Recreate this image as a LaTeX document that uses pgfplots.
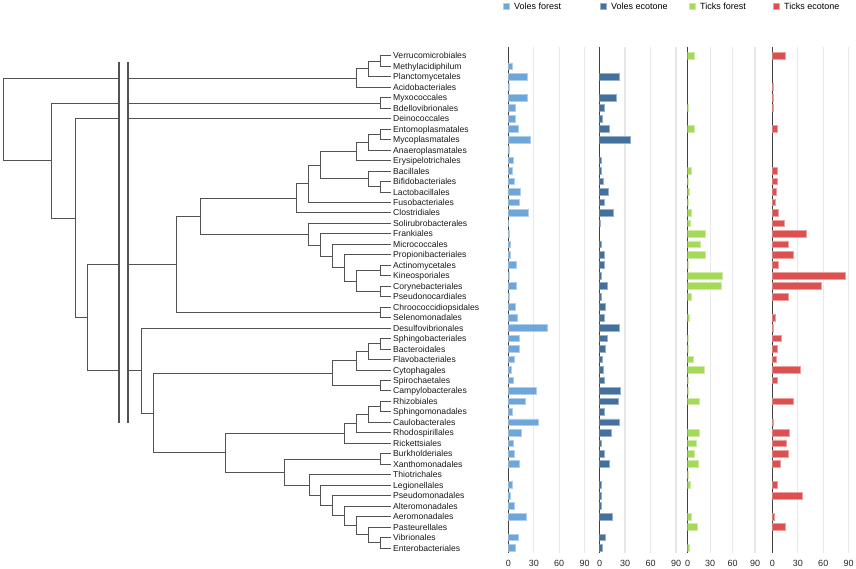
\documentclass[border=0pt]{standalone}
\usepackage{fontspec}
\setmainfont{Liberation Sans}
\usepackage{pgfplots}
\usepackage{pgfplotstable}
\pgfplotsset{compat=1.18}

\definecolor{vf}{RGB}{110,166,218}
\definecolor{ve}{RGB}{68,112,158}
\definecolor{tf}{RGB}{165,218,88}
\definecolor{te}{RGB}{221,80,80}

% relative abundance per order (rows top to bottom)
\pgfplotstableread{
row vf ve tf te
1 0 0 9 15
2 5 0 0 0
3 23 23 0 0
4 0.7 0 0 1.5
5 23 19.5 0 1.5
6 8 6 1.5 1.5
7 8 3 0 0
8 11.5 11 9 5.5
9 26 36 0 0
10 1.8 0 0 0
11 6 2 0 0
12 5 2 5 5.5
13 7.5 4 1.2 6.5
14 14.5 10 2 4.3
15 13.5 5 1 3.2
16 24 16.5 5.5 6.8
17 0.5 1 3 14
18 0.7 0 23 40
19 2.8 2 17 19
20 2.8 5 24 25
21 10 6 1.5 7.5
22 0.7 2 46 86
23 10 9 45 57.5
24 0.7 2 5.5 19
25 8 7 0 0
26 11 6 2.5 3.5
27 46 23.5 0 1.5
28 13 9 1.5 10.8
29 13 7 1.5 5.5
30 7 3 8 4.5
31 4 4 22 33
32 6 5 1.5 5.5
33 32.5 24.5 1 0
34 20.5 22.5 15 25
35 4.7 6 0 0
36 36 23 0 1.5
37 16 13.5 15 20
38 6 2 11.5 16.5
39 7 6 9.5 19
40 13.5 11 14 9.6
41 0 0 1 0
42 4.7 2 4 5.5
43 2 2 0 35
44 7 2 0 0
45 21.5 14.5 5.5 2.5
46 0 0 12.5 16
47 12 7 0 0
48 8 3 2 0
}\bardata

\pgfplotsset{
  rows/.style={scale only axis, height=506.3pt, anchor=north west,
    y dir=reverse, ymin=0.13, ymax=48.48},
  panel/.style={rows,
    xbar, bar width=6.7pt, bar shift=0pt, xmin=0,
    axis x line*=bottom, axis y line*=left,
    x axis line style={draw=none},
    y axis line style={black!75, line width=1.3pt},
    ytick=\empty, xtick={0,30,60,90},
    xmajorgrids, major grid style={black!9, line width=1.3pt},
    major tick length=0pt,
    tick label style={font=\fontsize{9}{10}\selectfont, text=black!85},
    xticklabel style={yshift=-3.5pt},
    /pgf/number format/assume math mode=true,
    x filter/.expression={x==0 ? nan : x}, unbounded coords=discard,
    legend style={at={(axis description cs:0,1)}, anchor=west, yshift=39.9pt,
      draw=none, fill=none, inner sep=0pt, column sep=2.6pt,
      font=\fontsize{9}{10}\selectfont},
    legend image code/.code={\fill[##1] (0pt,-2.9pt) rectangle (5.6pt,2.9pt);},
  },
  tree/.style={black!68, line width=0.85pt, mark=none},
}

\begin{document}
\begin{tikzpicture}
\useasboundingbox (0,0) rectangle (856pt,569pt);

% dendrogram
\begin{axis}[rows, width=393pt, at={(0pt,522.3pt)},
  xmin=0, xmax=393,
  axis x line=none, axis y line*=right, y axis line style={draw=none},
  major tick length=0pt,
  ytick={1,...,48},
  yticklabels={Verrucomicrobiales,Methylacidiphilum,Planctomycetales,Acidobacteriales,
    Myxococcales,Bdellovibrionales,Deinococcales,Entomoplasmatales,Mycoplasmatales,
    Anaeroplasmatales,Erysipelotrichales,Bacillales,Bifidobacteriales,Lactobacillales,
    Fusobacteriales,Clostridiales,Solirubrobacterales,Frankiales,Micrococcales,
    Propionibacteriales,Actinomycetales,Kineosporiales,Corynebacteriales,
    Pseudonocardiales,Chroococcidiopsidales,Selenomonadales,Desulfovibrionales,
    Sphingobacteriales,Bacteroidales,Flavobacteriales,Cytophagales,Spirochaetales,
    Campylobacterales,Rhizobiales,Sphingomonadales,Caulobacterales,Rhodospirillales,
    Rickettsiales,Burkholderiales,Xanthomonadales,Thiotrichales,Legionellales,
    Pseudomonadales,Alteromonadales,Aeromonadales,Pasteurellales,Vibrionales,
    Enterobacteriales},
  yticklabel style={anchor=base west, inner sep=0pt, yshift=-3.1pt,
    font=\fontsize{8.6}{9}\selectfont, text=black!90},
  clip=false]
\addplot[tree] coordinates {(391,1)(380,1)(380,2)(391,2)};
\addplot[tree] coordinates {(380,1.5)(368,1.5)(368,3)(391,3)};
\addplot[tree] coordinates {(368,2.25)(356,2.25)(356,4)(391,4)};
\addplot[tree] coordinates {(356,3.125)(128,3.125)};
\addplot[tree] coordinates {(391,5)(380,5)(380,6)(391,6)};
\addplot[tree] coordinates {(380,5.5)(128,5.5)};
\addplot[tree] coordinates {(391,7)(128,7)};
\addplot[tree] coordinates {(391,8)(380,8)(380,9)(391,9)};
\addplot[tree] coordinates {(380,8.5)(368,8.5)(368,10)(391,10)};
\addplot[tree] coordinates {(368,9.25)(356,9.25)(356,11)(391,11)};
\addplot[tree] coordinates {(391,13)(380,13)(380,14)(391,14)};
\addplot[tree] coordinates {(391,12)(368,12)(368,13.5)(380,13.5)};
\addplot[tree] coordinates {(356,10.125)(320.3,10.125)(320.3,12.75)(368,12.75)};
\addplot[tree] coordinates {(320.3,11.4375)(308.7,11.4375)(308.7,15)(391,15)};
\addplot[tree] coordinates {(308.7,13.219)(296.7,13.219)(296.7,16)(391,16)};
\addplot[tree] coordinates {(391,21)(380,21)(380,22)(391,22)};
\addplot[tree] coordinates {(391,23)(380,23)(380,24)(391,24)};
\addplot[tree] coordinates {(380,21.5)(356.7,21.5)(356.7,23.5)(380,23.5)};
\addplot[tree] coordinates {(391,20)(344.3,20)(344.3,22.5)(356.7,22.5)};
\addplot[tree] coordinates {(391,19)(332.7,19)(332.7,21.25)(344.3,21.25)};
\addplot[tree] coordinates {(391,18)(320.7,18)(320.7,20.125)(332.7,20.125)};
\addplot[tree] coordinates {(391,17)(308.3,17)(308.3,19.0625)(320.7,19.0625)};
\addplot[tree] coordinates {(296.7,14.609)(200.7,14.609)(200.7,18.031)(308.3,18.031)};
\addplot[tree] coordinates {(391,25)(380,25)(380,26)(391,26)};
\addplot[tree] coordinates {(200.7,16.32)(176.7,16.32)(176.7,25.5)(380,25.5)};
\addplot[tree] coordinates {(176.7,20.91)(128,20.91)};
\addplot[tree] coordinates {(391,28)(380,28)(380,29)(391,29)};
\addplot[tree] coordinates {(380,28.5)(368,28.5)(368,30)(391,30)};
\addplot[tree] coordinates {(368,29.25)(356,29.25)(356,31)(391,31)};
\addplot[tree] coordinates {(391,32)(380,32)(380,33)(391,33)};
\addplot[tree] coordinates {(356,30.125)(332.3,30.125)(332.3,32.5)(380,32.5)};
\addplot[tree] coordinates {(391,34)(380,34)(380,35)(391,35)};
\addplot[tree] coordinates {(380,34.5)(368,34.5)(368,36)(391,36)};
\addplot[tree] coordinates {(368,35.25)(356,35.25)(356,37)(391,37)};
\addplot[tree] coordinates {(356,36.125)(344,36.125)(344,38)(391,38)};
\addplot[tree] coordinates {(391,39)(380,39)(380,40)(391,40)};
\addplot[tree] coordinates {(391,47)(380,47)(380,48)(391,48)};
\addplot[tree] coordinates {(391,46)(368.3,46)(368.3,47.5)(380,47.5)};
\addplot[tree] coordinates {(391,45)(356.7,45)(356.7,46.75)(368.3,46.75)};
\addplot[tree] coordinates {(391,44)(344.3,44)(344.3,45.875)(356.7,45.875)};
\addplot[tree] coordinates {(391,43)(332.7,43)(332.7,44.9375)(344.3,44.9375)};
\addplot[tree] coordinates {(391,42)(320.7,42)(320.7,43.969)(332.7,43.969)};
\addplot[tree] coordinates {(391,41)(309,41)(309,42.984)(320.7,42.984)};
\addplot[tree] coordinates {(380,39.5)(284.7,39.5)(284.7,41.992)(309,41.992)};
\addplot[tree] coordinates {(344,37.0625)(225,37.0625)(225,40.746)(284.7,40.746)};
\addplot[tree] coordinates {(332.3,31.3125)(153,31.3125)(153,38.904)(225,38.904)};
\addplot[tree] coordinates {(391,27)(141,27)(141,35.108)(153,35.108)};
\addplot[tree] coordinates {(141,31.054)(128,31.054)};
% left part, before the break
\addplot[tree] coordinates {(119,3.125)(3,3.125)(3,10.995)(51,10.995)};
\addplot[tree] coordinates {(119,5.5)(51,5.5)(51,16.49)(75,16.49)};
\addplot[tree] coordinates {(119,7)(75,7)(75,25.98)(87,25.98)};
\addplot[tree] coordinates {(119,20.91)(87,20.91)(87,31.054)(119,31.054)};
\addplot[tree, line width=1.1pt] coordinates {(119,1.56)(119,36.07)};
\addplot[tree, line width=1.1pt] coordinates {(128,1.56)(128,36.07)};
\end{axis}

% Voles forest
\begin{axis}[panel, width=84.9pt, xmax=100, at={(508.3pt,522.3pt)},
  legend style={xshift=-5.3pt}]
\addplot[fill=vf, draw=vf!55!white, line width=0.8pt] table[x=vf, y=row] {\bardata};
\addlegendentry{Voles forest}
\end{axis}

% Voles ecotone
\begin{axis}[panel, width=84.8pt, xmax=100, at={(599.7pt,522.3pt)},
  legend style={xshift=0.3pt}]
\addplot[fill=ve, draw=ve!55!white, line width=0.8pt] table[x=ve, y=row] {\bardata};
\addlegendentry{Voles ecotone}
\end{axis}

% Ticks forest
\begin{axis}[panel, width=74.8pt, xmax=100, at={(687.7pt,522.3pt)},
  legend style={xshift=1.3pt}]
\addplot[fill=tf, draw=tf!55!white, line width=0.8pt] table[x=tf, y=row] {\bardata};
\addlegendentry{Ticks forest}
\end{axis}

% Ticks ecotone
\begin{axis}[panel, width=83.2pt, xmax=98, at={(772.3pt,522.3pt)},
  legend style={xshift=0.7pt}]
\addplot[fill=te, draw=te!55!white, line width=0.8pt] table[x=te, y=row] {\bardata};
\addlegendentry{Ticks ecotone}
\end{axis}
\end{tikzpicture}
\end{document}
